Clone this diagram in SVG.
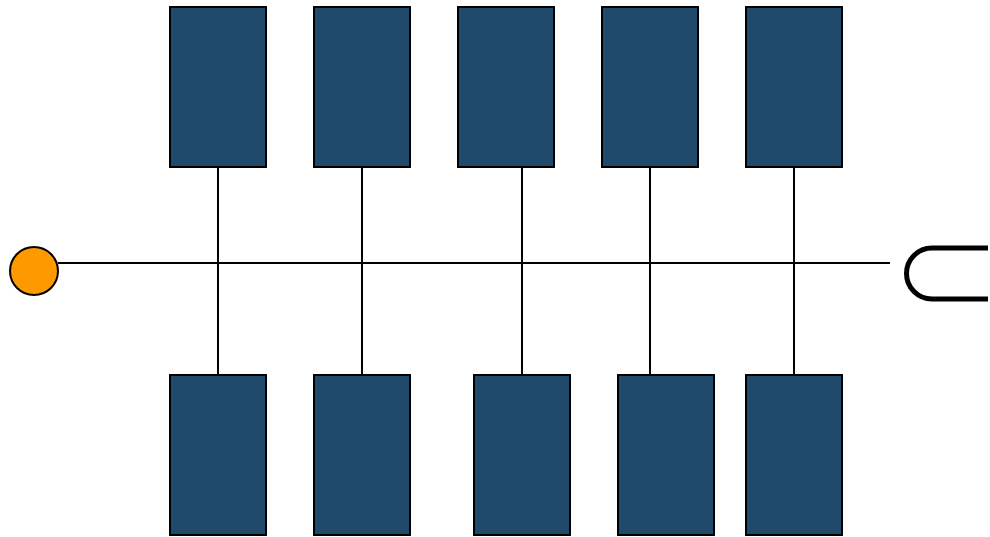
<svg xmlns="http://www.w3.org/2000/svg" width="990" height="537" viewBox="0 0 990 537">
<style>
.box{fill:#204a6c;stroke:#000;stroke-width:2}
.ln{stroke:#000;stroke-width:2;fill:none}
</style>
<rect width="990" height="537" fill="#fff"/>
<g id="connectors">
<line class="ln" x1="58" y1="263" x2="890" y2="263"/>
<line class="ln" x1="218" y1="167" x2="218" y2="375"/>
<line class="ln" x1="362" y1="167" x2="362" y2="375"/>
<line class="ln" x1="522" y1="167" x2="522" y2="375"/>
<line class="ln" x1="650" y1="167" x2="650" y2="375"/>
<line class="ln" x1="794" y1="167" x2="794" y2="375"/>
</g>
<g id="t1"><rect class="box" x="170" y="7" width="96" height="160"/></g>
<g id="t2"><rect class="box" x="314" y="7" width="96" height="160"/></g>
<g id="t3"><rect class="box" x="458" y="7" width="96" height="160"/></g>
<g id="t4"><rect class="box" x="602" y="7" width="96" height="160"/></g>
<g id="t5"><rect class="box" x="746" y="7" width="96" height="160"/></g>
<g id="b1"><rect class="box" x="170" y="375" width="96" height="160"/></g>
<g id="b2"><rect class="box" x="314" y="375" width="96" height="160"/></g>
<g id="b3"><rect class="box" x="474" y="375" width="96" height="160"/></g>
<g id="b4"><rect class="box" x="618" y="375" width="96" height="160"/></g>
<g id="b5"><rect class="box" x="746" y="375" width="96" height="160"/></g>
<g id="start"><circle cx="34" cy="271" r="24" fill="#ff9900" stroke="#000" stroke-width="2"/></g>
<g id="end"><path d="M988,248 H932 A25.5,25.5 0 0 0 932,299 H988" fill="none" stroke="#000" stroke-width="5"/></g>
</svg>
